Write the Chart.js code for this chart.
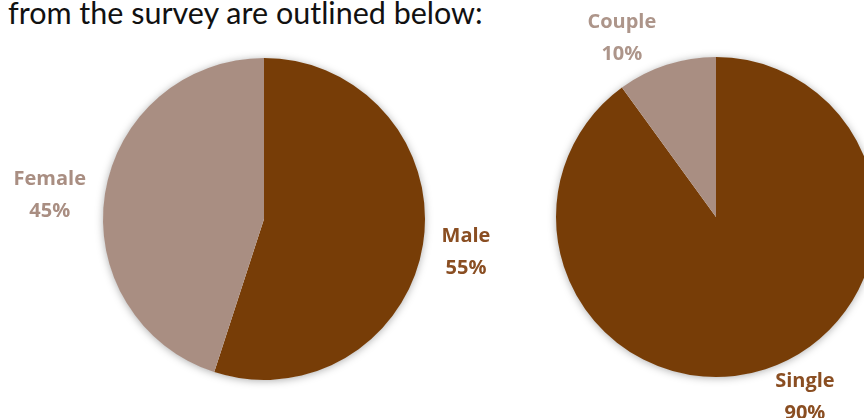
<!DOCTYPE html>
<html>
<head>
<meta charset="utf-8">
<script src="https://cdn.jsdelivr.net/npm/chart.js@4"></script>
<style>
  html, body { margin: 0; padding: 0; background: #fff; }
  body { width: 864px; height: 418px; position: relative; overflow: hidden; }
  #intro {
    position: absolute; top: -6px; left: -13px; white-space: nowrap;
    font-family: Lato, sans-serif; font-size: 30.5px; color: #111;
  }
  .box { position: absolute; top: 0; height: 418px; }
  #genderBox { left: 0; width: 520px; }
  #householdBox { left: 440px; width: 460px; }
</style>
</head>
<body>
<div id="intro">s from the survey are outlined below:</div>
<div class="box" id="genderBox"><canvas id="genderChart"></canvas></div>
<div class="box" id="householdBox"><canvas id="householdChart"></canvas></div>

<script>
'use strict';

const genderLabels = ['Male', 'Female'];
const genderValues = [55, 45];

const householdLabels = ['Single', 'Couple'];
const householdValues = [90, 10];

const DARK = '#773d07';
const LIGHT = '#a98e82';

// soft glow behind the whole pie
const pieShadow = {
  id: 'pieShadow',
  beforeDatasetsDraw(chart) {
    const arc = chart.getDatasetMeta(0).data[0];
    if (!arc) return;
    const ctx = chart.ctx;
    ctx.save();
    ctx.shadowColor = 'rgba(0,0,0,0.35)';
    ctx.shadowBlur = 9;
    ctx.shadowOffsetY = 1;
    ctx.fillStyle = '#fff';
    ctx.beginPath();
    ctx.arc(arc.x, arc.y, arc.outerRadius - 0.5, 0, Math.PI * 2);
    ctx.fill();
    ctx.restore();
  }
};

// name + percent outside each slice
const sliceLabels = {
  id: 'sliceLabels',
  afterDatasetsDraw(chart, args, opts) {
    const meta = chart.getDatasetMeta(0);
    const ds = chart.data.datasets[0];
    const total = ds.data.reduce((a, b) => a + b, 0);
    const ctx = chart.ctx;
    ctx.save();
    ctx.font = 'bold 20px "Open Sans", sans-serif';
    ctx.textAlign = 'center';
    ctx.textBaseline = 'middle';
    meta.data.forEach((arc, i) => {
      const mid = (arc.startAngle + arc.endAngle) / 2 + (opts.shift[i] || 0) * Math.PI / 180;
      const dist = arc.outerRadius * opts.dist[i];
      const x = arc.x + Math.cos(mid) * dist;
      const y = arc.y + Math.sin(mid) * dist;
      ctx.fillStyle = opts.colors[i];
      ctx.fillText(chart.data.labels[i], x, y - 15);
      ctx.fillText(Math.round(ds.data[i] / total * 100) + '%', x, y + 17);
    });
    ctx.restore();
  }
};

function makePie(id, labels, values, padding, labelOpts) {
  return new Chart(document.getElementById(id), {
    type: 'pie',
    data: {
      labels: labels,
      datasets: [{
        data: values,
        backgroundColor: [DARK, LIGHT],
        borderWidth: 0
      }]
    },
    options: {
      responsive: true,
      maintainAspectRatio: false,
      animation: false,
      layout: { padding: padding },
      plugins: {
        legend: { display: false },
        tooltip: { enabled: false },
        sliceLabels: labelOpts
      }
    },
    plugins: [pieShadow, sliceLabels]
  });
}

makePie('genderChart', genderLabels, genderValues,
  { left: 103, right: 95, top: 58, bottom: 38 },
  { dist: [1.27, 1.34], shift: [0, -2.3], colors: ['#8a4e22', '#a98e82'] });

makePie('householdChart', householdLabels, householdValues,
  { left: 116, right: 24, top: 57, bottom: 41 },
  { dist: [1.25, 1.27], shift: [-8.4, -9.6], colors: ['#8a4e22', '#ad958a'] });
</script>
</body>
</html>
